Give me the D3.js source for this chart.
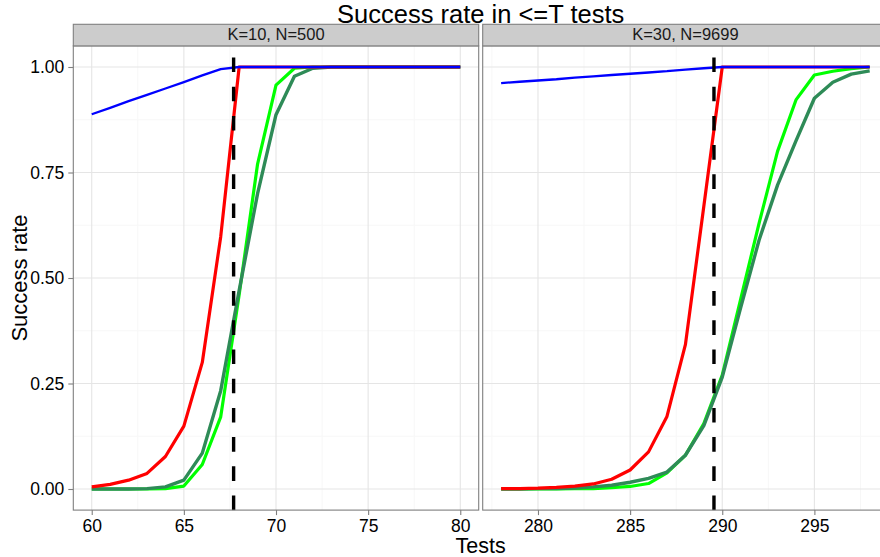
<!DOCTYPE html>
<html>
<head>
<meta charset="utf-8">
<script src="https://cdn.jsdelivr.net/npm/d3@7"></script>
<style>
  body { margin: 0; background: #fff; }
  svg { display: block; font-family: "Liberation Sans", Arial, sans-serif; }
</style>
</head>
<body>
<script>
const w = 880;
const h = 557;

// panel titles and cut-off (dashed line) positions
const panelNames = ["K=10, N=500", "K=30, N=9699"];
const cutoffs = [67.7, 289.55];

// left panel: K=10, N=500
const testsA = [60, 61, 62, 63, 64, 65, 66, 67, 68, 69, 70, 71, 72, 73, 74, 75, 76, 77, 78, 79, 80];
const redA   = [0.005, 0.011, 0.021, 0.037, 0.077, 0.149, 0.300, 0.598, 1, 1, 1, 1, 1, 1, 1, 1, 1, 1, 1, 1, 1];
const limeA  = [0, 0, 0, 0, 0.001, 0.007, 0.058, 0.171, 0.46, 0.77, 0.957, 0.997, 1, 1, 1, 1, 1, 1, 1, 1, 1];
const seaA   = [0, 0, 0, 0.001, 0.005, 0.021, 0.085, 0.233, 0.47, 0.70, 0.887, 0.978, 0.997, 1, 1, 1, 1, 1, 1, 1, 1];
const blueA  = [0.888, 0.903, 0.919, 0.934, 0.949, 0.964, 0.980, 0.995, 1, 1, 1, 1, 1, 1, 1, 1, 1, 1, 1, 1, 1];

// right panel: K=30, N=9699
const testsB = [278, 279, 280, 281, 282, 283, 284, 285, 286, 287, 288, 289, 290, 291, 292, 293, 294, 295, 296, 297, 298];
const redB   = [0.001, 0.001, 0.002, 0.004, 0.007, 0.012, 0.023, 0.045, 0.088, 0.172, 0.342, 0.67, 1, 1, 1, 1, 1, 1, 1, 1, 1];
const limeB  = [0, 0, 0, 0, 0.001, 0.001, 0.003, 0.006, 0.013, 0.038, 0.08, 0.155, 0.27, 0.45, 0.63, 0.80, 0.922, 0.981, 0.99, 0.996, 1];
const seaB   = [0, 0, 0.001, 0.001, 0.002, 0.005, 0.009, 0.016, 0.025, 0.04, 0.08, 0.15, 0.265, 0.43, 0.59, 0.72, 0.825, 0.926, 0.964, 0.983, 0.991];
const blueB  = [0.962, 0.965, 0.968, 0.971, 0.975, 0.978, 0.981, 0.984, 0.987, 0.990, 0.994, 0.997, 1, 1, 1, 1, 1, 1, 1, 1, 1];

const xTicksA = [60, 65, 70, 75, 80];
const xTicksB = [280, 285, 290, 295];
const yTicks = [0, 0.25, 0.5, 0.75, 1];
const yTickLabels = ["0.00", "0.25", "0.50", "0.75", "1.00"];

const panels = [
  { name: panelNames[0], tests: testsA, red: redA, lime: limeA, sea: seaA, blue: blueA,
    ticks: xTicksA, cut: cutoffs[0], left: 73.3, right: 478.7 },
  { name: panelNames[1], tests: testsB, red: redB, lime: limeB, sea: seaB, blue: blueB,
    ticks: xTicksB, cut: cutoffs[1], left: 482.7, right: 888.1 }
];

const panelTop = 45.9, panelBottom = 510.1, stripTop = 24.3;

let svg = d3.select("body").append("svg")
  .attr("width", w)
  .attr("height", h);

let y = d3.scaleLinear().domain([-0.05, 1.05]).range([panelBottom, panelTop]);

panels.forEach((p, pi) => {
  let lo = d3.min(p.tests), hi = d3.max(p.tests), pad = (hi - lo) * 0.05;
  let x = d3.scaleLinear().domain([lo - pad, hi + pad]).range([p.left, p.right]);
  let g = svg.append("g");

  g.append("rect")
    .attr("x", p.left).attr("y", panelTop)
    .attr("width", p.right - p.left).attr("height", panelBottom - panelTop)
    .attr("fill", "#fff");

  // minor grid
  let xMinor = p.ticks.slice(0, -1).map(t => t + 2.5);
  xMinor.unshift(p.ticks[0] - 2.5);
  xMinor.push(p.ticks[p.ticks.length - 1] + 2.5);
  g.selectAll(".xminor").data(xMinor.filter(v => x(v) > p.left && x(v) < p.right)).enter()
    .append("line")
    .attr("x1", d => x(d)).attr("x2", d => x(d))
    .attr("y1", panelTop).attr("y2", panelBottom)
    .attr("stroke", "#f7f7f7").attr("stroke-width", 1);
  g.selectAll(".yminor").data([0.125, 0.375, 0.625, 0.875]).enter()
    .append("line")
    .attr("x1", p.left).attr("x2", p.right)
    .attr("y1", d => y(d)).attr("y2", d => y(d))
    .attr("stroke", "#f7f7f7").attr("stroke-width", 1);

  // major grid
  g.selectAll(".xmajor").data(p.ticks).enter()
    .append("line")
    .attr("x1", d => x(d)).attr("x2", d => x(d))
    .attr("y1", panelTop).attr("y2", panelBottom)
    .attr("stroke", "#e5e5e5").attr("stroke-width", 1.1);
  g.selectAll(".ymajor").data(yTicks).enter()
    .append("line")
    .attr("x1", p.left).attr("x2", p.right)
    .attr("y1", d => y(d)).attr("y2", d => y(d))
    .attr("stroke", "#e5e5e5").attr("stroke-width", 1.1);

  // series lines
  let series = [
    { vals: p.lime, colour: "#00ff00", width: 3.2 },
    { vals: p.sea, colour: "#2e8b57", width: 3.4 },
    { vals: p.red, colour: "#ff0000", width: 3.2 },
    { vals: p.blue, colour: "#0000ff", width: 2.3 }
  ];
  series.forEach(s => {
    let line = d3.line()
      .x((d, i) => x(p.tests[i]))
      .y(d => y(d));
    g.append("path")
      .datum(s.vals)
      .attr("d", line)
      .attr("fill", "none")
      .attr("stroke", s.colour)
      .attr("stroke-width", s.width)
      .attr("stroke-linejoin", "round");
  });

  // dashed cut-off, drawn bottom to top
  g.append("line")
    .attr("x1", x(p.cut)).attr("x2", x(p.cut))
    .attr("y1", panelBottom).attr("y2", panelTop)
    .attr("stroke", "#000")
    .attr("stroke-width", 3.4)
    .attr("stroke-dasharray", "14.6,14.6");

  // panel border
  g.append("rect")
    .attr("x", p.left).attr("y", panelTop)
    .attr("width", p.right - p.left).attr("height", panelBottom - panelTop)
    .attr("fill", "none").attr("stroke", "#7f7f7f").attr("stroke-width", 1.1);

  // strip
  g.append("rect")
    .attr("x", p.left).attr("y", stripTop)
    .attr("width", p.right - p.left).attr("height", panelTop - stripTop)
    .attr("fill", "#cccccc").attr("stroke", "#7f7f7f").attr("stroke-width", 1.1);
  g.append("text")
    .attr("x", (p.left + p.right) / 2)
    .attr("y", panelTop - 5.5)
    .attr("text-anchor", "middle")
    .style("font-size", "16.5px")
    .attr("fill", "#1a1a1a")
    .text(p.name);

  // x axis
  let xAxis = d3.axisBottom(x).tickValues(p.ticks).tickSize(5).tickPadding(4);
  let ax = svg.append("g")
    .attr("transform", "translate(0," + panelBottom + ")")
    .call(xAxis);
  ax.select(".domain").remove();
  ax.selectAll("line").attr("stroke", "#7f7f7f").attr("stroke-width", 1.1);
  ax.selectAll("text").style("font-size", "17.5px").attr("fill", "#000")
    .style("font-family", "'Liberation Sans', Arial, sans-serif");

  // y axis only on left panel
  if (pi === 0) {
    let yAxis = d3.axisLeft(y).tickValues(yTicks)
      .tickFormat((d, i) => yTickLabels[i]).tickSize(5).tickPadding(4);
    let ay = svg.append("g")
      .attr("transform", "translate(" + p.left + ",0)")
      .call(yAxis);
    ay.select(".domain").remove();
    ay.selectAll("line").attr("stroke", "#7f7f7f").attr("stroke-width", 1.1);
    ay.selectAll("text").style("font-size", "17.5px").attr("fill", "#000")
      .style("font-family", "'Liberation Sans', Arial, sans-serif");
  }
});

svg.append("text")
  .attr("x", 480.7).attr("y", 23)
  .attr("text-anchor", "middle")
  .style("font-size", "25.5px")
  .text("Success rate in <=T tests");

svg.append("text")
  .attr("x", 480.7).attr("y", 553)
  .attr("text-anchor", "middle")
  .style("font-size", "21.5px")
  .text("Tests");

svg.append("text")
  .attr("transform", "translate(26.5," + ((panelTop + panelBottom) / 2) + ") rotate(-90)")
  .attr("text-anchor", "middle")
  .style("font-size", "22px")
  .text("Success rate");
</script>
</body>
</html>
